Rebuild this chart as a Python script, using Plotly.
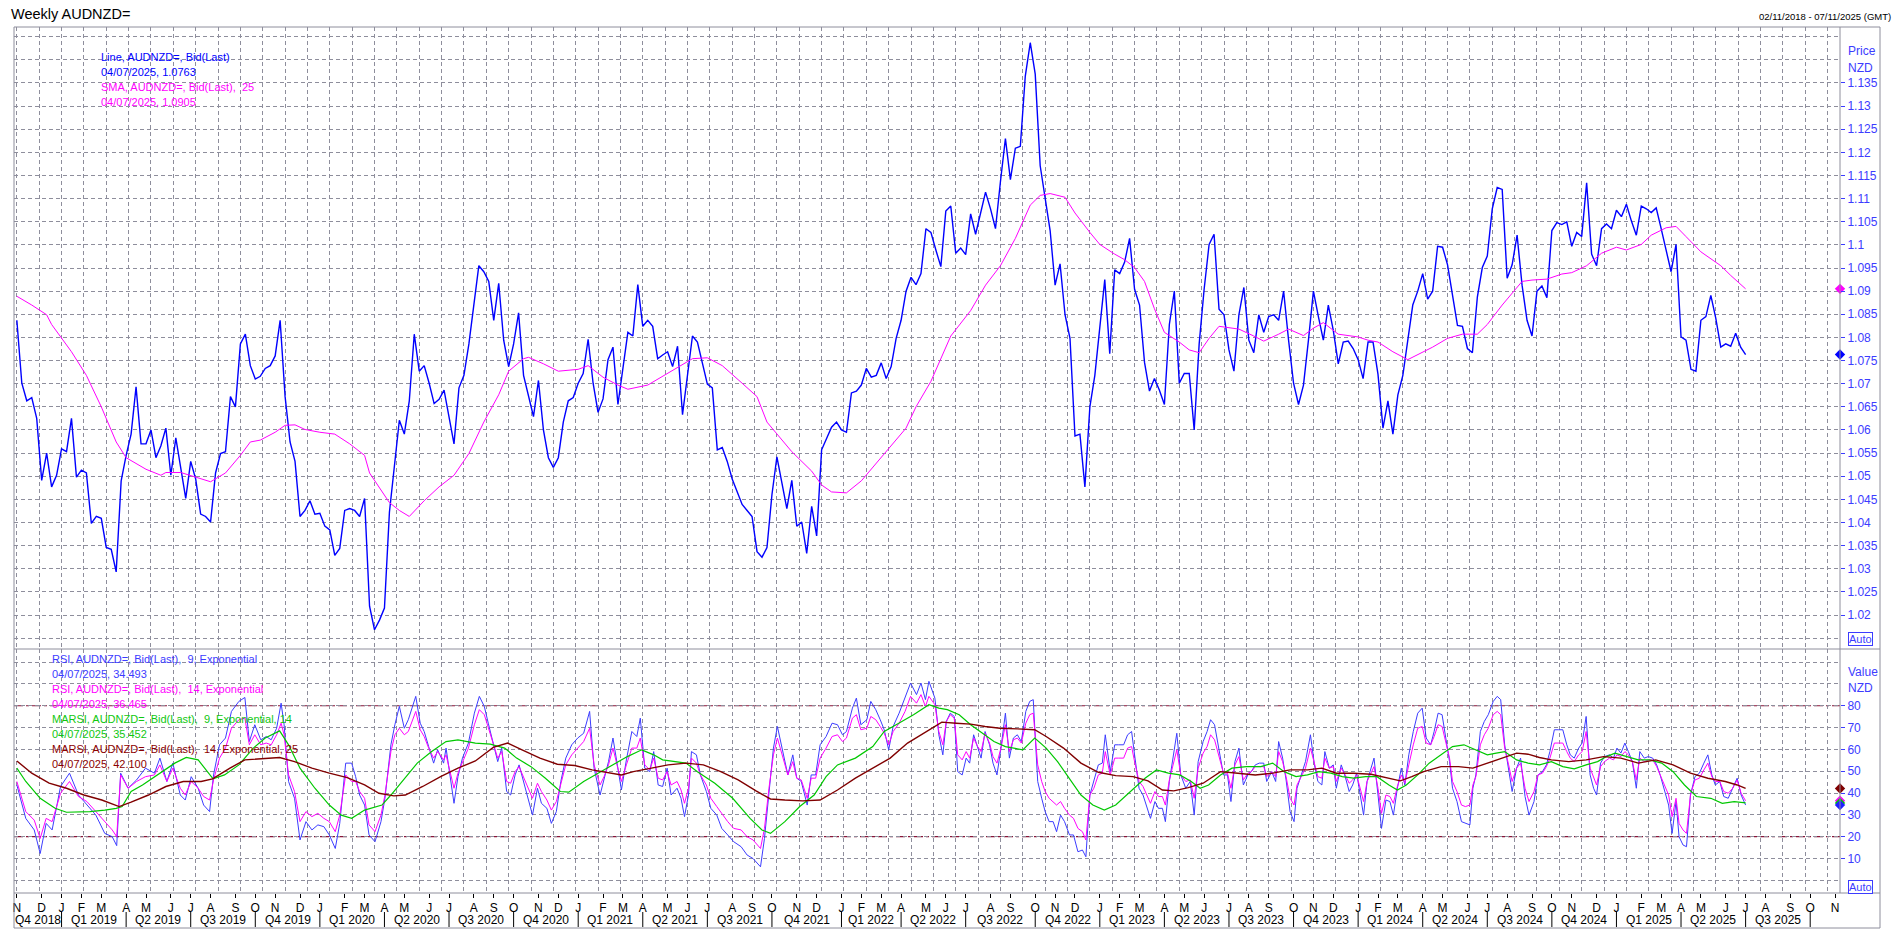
import numpy as np
import pandas as pd
import plotly.graph_objects as go

W, H = 1898, 932
START = pd.Timestamp("2018-11-02")          # first weekly bar (Friday)
X_RANGE = ["2018-10-29", "2025-11-14"]

# ---------------- data (weekly closes) ----------------
price = [
    1.0837, 1.0701, 1.0663, 1.0670, 1.0625, 1.0491, 1.0550, 1.0477, 1.0502, 1.0559,
    1.0553, 1.0625, 1.0498, 1.0513, 1.0507, 1.0398, 1.0413, 1.0409, 1.0346, 1.0342,
    1.0293, 1.0490, 1.0545, 1.0591, 1.0693, 1.0570, 1.0570, 1.0600, 1.0540, 1.0566,
    1.0604, 1.0502, 1.0583, 1.0515, 1.0452, 1.0532, 1.0494, 1.0418, 1.0413, 1.0401,
    1.0507, 1.0549, 1.0553, 1.0672, 1.0650, 1.0786, 1.0807, 1.0739, 1.0710, 1.0716,
    1.0733, 1.0739, 1.0760, 1.0837, 1.0672, 1.0574, 1.0532, 1.0413, 1.0426, 1.0447,
    1.0418, 1.0420, 1.0392, 1.0384, 1.0329, 1.0344, 1.0426, 1.0430, 1.0426, 1.0413,
    1.0452, 1.0219, 1.0168, 1.0189, 1.0215, 1.0422, 1.0515, 1.0621, 1.0591, 1.0663,
    1.0807, 1.0727, 1.0739, 1.0701, 1.0657, 1.0666, 1.0686, 1.0629, 1.0570, 1.0691,
    1.0718, 1.0786, 1.0870, 1.0955, 1.0942, 1.0921, 1.0837, 1.0917, 1.0794, 1.0737,
    1.0786, 1.0853, 1.0718, 1.0672, 1.0629, 1.0707, 1.0600, 1.0540, 1.0519, 1.0540,
    1.0617, 1.0663, 1.0670, 1.0701, 1.0722, 1.0796, 1.0701, 1.0638, 1.0667, 1.0752,
    1.0779, 1.0655, 1.0735, 1.0811,
    1.0803, 1.0914, 1.0824, 1.0837, 1.0824, 1.0754, 1.0762, 1.0769, 1.0737, 1.0781,
    1.0633, 1.0718, 1.0803, 1.0790, 1.0743, 1.0699, 1.0691, 1.0557, 1.0562, 1.0532,
    1.0494, 1.0468, 1.0439, 1.0426, 1.0413, 1.0337, 1.0325, 1.0346, 1.0460, 1.0542,
    1.0490, 1.0430, 1.0491, 1.0392, 1.0401, 1.0333, 1.0435, 1.0371, 1.0557, 1.0583,
    1.0606, 1.0617, 1.0600, 1.0595, 1.0680, 1.0684, 1.0697, 1.0733, 1.0714, 1.0718,
    1.0745, 1.0711, 1.0737, 1.0798, 1.0837, 1.0900, 1.0930, 1.0914, 1.0938, 1.1035,
    1.1027, 1.0989, 1.0953, 1.1073, 1.1084, 1.0982, 1.0993, 1.0979, 1.1067, 1.1023,
    1.1070, 1.1114, 1.1078, 1.1035, 1.1137, 1.1230, 1.1141, 1.1209, 1.1213, 1.1365,
    1.1437, 1.1369, 1.1171, 1.1103, 1.1031, 1.0913, 1.0959, 1.0849, 1.0798, 1.0587,
    1.0591, 1.0477, 1.0650, 1.0718, 1.0815, 1.0925, 1.0765, 1.0946, 1.0938, 1.0963,
    1.1014, 1.0904, 1.0870, 1.0746, 1.0684, 1.0711, 1.0686, 1.0655, 1.0828, 1.0900,
    1.0701, 1.0722, 1.0722, 1.0600, 1.0786, 1.0904, 1.1001, 1.1023, 1.0861, 1.0849,
    1.0773, 1.0727, 1.0849,
    1.0908, 1.0794, 1.0767, 1.0849, 1.0811, 1.0845, 1.0849, 1.0837, 1.0900, 1.0794,
    1.0701, 1.0655, 1.0697, 1.0794, 1.0900, 1.0845, 1.0794, 1.0870, 1.0815, 1.0743,
    1.0790, 1.0792, 1.0776, 1.0752, 1.0711, 1.0790, 1.0790, 1.0720, 1.0604, 1.0663,
    1.0591, 1.0676, 1.0718, 1.0794, 1.0870, 1.0900, 1.0938, 1.0883, 1.0900, 1.0997,
    1.0995, 1.0957, 1.0887, 1.0826, 1.0824, 1.0776, 1.0767, 1.0887, 1.0951, 1.0976,
    1.1078, 1.1124, 1.1120, 1.0928, 1.0957, 1.1021, 1.0913, 1.0837, 1.0803, 1.0900,
    1.0911, 1.0886, 1.1031, 1.1048, 1.1044, 1.1050, 1.0997, 1.1027, 1.1018, 1.1134,
    1.0980, 1.0955, 1.1035, 1.1045, 1.1035, 1.1075, 1.1061, 1.1088, 1.1052, 1.1021,
    1.1084, 1.1078, 1.1070, 1.1080, 1.1035, 1.0989, 1.0942, 1.1001, 1.0801, 1.0794,
    1.0731, 1.0727, 1.0837, 1.0845, 1.0891, 1.0841, 1.0779, 1.0786, 1.0781, 1.0809,
    1.0779, 1.0763,
]

# SMA(25): week number since first bar, value
sma_week = [0, 3, 6, 7, 11, 14, 17, 20, 22, 26, 29, 30, 33, 36, 39, 42, 45, 47, 49, 52,
            54, 56, 58, 61, 64, 67, 70, 71, 75, 77, 79, 82, 85, 88, 91, 94, 97, 99, 102, 103,
            106, 109, 113, 115, 118, 121, 123,
            127, 130, 134, 136, 139, 142, 146, 149, 151, 153, 156, 160, 162, 164, 167, 170, 174, 179,
            181, 184, 188, 192, 195, 198, 201, 204, 206, 208, 211, 213, 216, 218, 221, 223, 225, 227,
            229, 231, 234, 236, 238, 240, 242, 244, 246,
            249, 251, 254, 256, 259, 261, 263, 266, 270, 272, 274, 277, 280, 283, 285, 288, 291, 294,
            296, 299, 303, 305, 308, 311, 313, 316, 319, 322, 324, 327, 329, 332, 334, 336, 339, 343,
            345, 348]
sma_value = [1.0889, 1.0870, 1.0849, 1.0828, 1.0769, 1.0718, 1.0650, 1.0574, 1.0540, 1.0515,
             1.0502, 1.0508, 1.0508, 1.0498, 1.0488, 1.0507, 1.0545, 1.0574, 1.0578, 1.0595,
             1.0610, 1.0611, 1.0601, 1.0595, 1.0591, 1.0570, 1.0545, 1.0507, 1.0443, 1.0426,
             1.0413, 1.0447, 1.0477, 1.0502, 1.0549, 1.0617, 1.0676, 1.0727, 1.0754, 1.0757,
             1.0743, 1.0727, 1.0731, 1.0739, 1.0714, 1.0697, 1.0688,
             1.0697, 1.0716, 1.0742, 1.0754, 1.0756, 1.0739, 1.0701, 1.0672, 1.0617, 1.0591,
             1.0553, 1.0511, 1.0481, 1.0466, 1.0464, 1.0490, 1.0540, 1.0604, 1.0650, 1.0705,
             1.0803, 1.0858, 1.0913, 1.0955, 1.1014, 1.1086, 1.1107, 1.1111, 1.1103, 1.1069,
             1.1027, 1.1001, 1.0980, 1.0968, 1.0951, 1.0921, 1.0862, 1.0811, 1.0790, 1.0773,
             1.0767, 1.0798, 1.0824, 1.0821, 1.0818,
             1.0803, 1.0792, 1.0807, 1.0818, 1.0804, 1.0820, 1.0832, 1.0807, 1.0801, 1.0794,
             1.0790, 1.0769, 1.0752, 1.0769, 1.0779, 1.0798, 1.0807, 1.0807, 1.0828, 1.0870,
             1.0921, 1.0924, 1.0926, 1.0937, 1.0940, 1.0955, 1.0982, 1.0995, 1.0989, 1.1001,
             1.1021, 1.1037, 1.1040, 1.1018, 1.0985, 1.0955, 1.0934, 1.0905]

# RSI 9 / RSI 14 (exponential): week number, values
rsi_week = [0.0, 1.8, 3.5, 4.7, 5.9, 7.1, 8.8, 10.6, 12.4, 14.1, 15.9, 17.7, 19.2, 20.1, 20.9,
            22.4, 24.1, 25.9, 27.7, 28.8, 30.2, 31.4, 32.9, 33.9, 35.1, 36.5, 37.6, 38.8, 39.6,
            40.8, 42.0, 43.2, 44.7, 45.9, 46.8, 47.9, 49.1, 50.2, 51.2, 52.3, 53.2, 53.8, 54.7,
            55.9, 57.0, 58.2, 59.4, 60.6, 61.8, 62.9, 64.1, 65.0, 66.2, 67.4, 68.2, 69.0, 70.0,
            70.9, 72.1, 73.3, 74.1, 75.3, 76.1, 77.0, 78.0, 78.8, 79.7, 80.3, 81.2, 82.0, 82.9,
            83.9, 84.7, 85.9, 86.4, 87.4, 88.0, 88.8, 89.7, 90.9, 92.1, 93.1, 94.1, 94.9, 95.9,
            96.8, 97.6, 98.6, 99.4, 100.3, 101.1, 102.0, 102.9, 103.8, 104.8, 105.6, 106.7,
            107.6, 108.6, 109.5, 110.5, 111.7, 112.9, 114.1, 115.3, 116.2, 117.4, 118.2, 119.1,
            120.0, 120.9, 121.7, 122.7, 123.8, 124.8, 125.5, 126.4, 127.4, 128.2, 129.1, 130.0,
            130.9, 131.7, 132.9, 133.7, 134.4, 135.2, 135.8, 136.8, 137.6, 138.8, 139.7, 140.9,
            141.9, 143.1, 144.3, 145.8, 147.0, 148.2, 149.7, 150.5, 151.4, 152.3, 153.1, 154.1,
            155.2, 156.2, 157.0, 157.9, 159.1, 159.9, 160.8, 161.7, 162.9, 164.1, 165.2, 166.2,
            167.0, 168.2, 169.0, 169.9, 171.1, 171.9, 172.9, 173.8, 174.6, 175.5, 176.4, 177.6,
            178.8, 179.9, 181.1, 182.0, 182.9, 183.6,
            184.8, 185.6, 186.4, 187.1, 187.9, 188.7, 189.4, 190.3, 191.1, 191.8, 192.6, 193.4,
            194.1, 194.9, 195.8, 196.5, 197.3, 198.1, 199.0, 199.8, 200.6, 201.4, 202.2, 203.1,
            203.9, 204.6, 205.5, 206.3, 207.0, 207.8, 208.6, 209.3, 210.1, 210.9, 211.9, 212.7,
            213.6, 214.5, 215.2, 216.0, 216.8, 217.7, 218.5, 219.1, 220.1, 221.0, 221.8, 222.8,
            223.6, 224.4, 225.0, 225.9, 226.7, 227.4, 228.2, 229.1, 229.8, 230.6, 231.2, 232.0,
            232.7, 233.5, 234.3, 235.3, 236.2, 237.0, 237.8, 238.8, 239.6, 240.3, 241.1, 241.9,
            242.9, 243.7, 244.4, 245.2, 246.0, 246.9, 247.8, 248.5, 249.3, 250.1, 251.0, 251.6,
            252.6, 253.4, 254.0, 254.8, 255.5, 256.3, 257.1, 257.7, 258.6, 259.4, 260.4, 261.2,
            261.9, 262.7, 263.3, 264.2, 265.0, 265.6, 266.6, 267.4, 268.2, 268.9, 269.7, 270.5,
            271.1, 271.8, 272.6, 273.2, 274.0, 274.7, 275.6, 276.4, 277.1, 277.9, 278.7, 279.4,
            280.2, 281.1, 282.0, 282.9, 283.7, 284.6, 285.3, 286.1, 286.9, 287.6, 288.4, 289.0,
            289.9, 290.8, 291.6, 292.5, 293.1, 293.7, 294.6, 295.4, 296.2, 297.2, 298.0, 298.7,
            299.5, 300.3, 301.0, 301.9, 302.7, 303.6, 304.4, 305.4, 306.2, 307.1, 307.9, 308.6,
            309.5, 310.3, 311.2, 312.0, 312.7, 313.5, 314.4, 315.1, 315.9, 316.7, 317.4, 318.0,
            318.8, 319.6, 320.6, 321.4, 322.1, 322.9, 323.7, 324.4, 325.2, 326.0, 326.7, 327.6,
            328.4, 329.3, 330.1, 330.8, 331.6, 332.5, 333.2, 334.0, 334.6, 335.4, 336.1, 336.9,
            337.8, 338.7, 339.6, 340.4, 341.2, 341.9, 342.8, 343.6, 344.5, 345.4, 346.3, 347.1,
            348.0]
rsi9 = [43.7, 28.4, 23.1, 12.3, 26.1, 23.1, 43.0, 49.1, 39.1, 34.5, 29.9, 21.5, 20.0, 15.9, 49.1,
        42.2, 46.0, 51.4, 49.1, 56.0, 45.3, 53.7, 39.1, 36.8, 47.5, 42.2, 34.5, 31.5, 48.3,
        62.1, 65.2, 77.4, 82.0, 83.8, 63.6, 71.3, 64.4, 65.9, 64.4, 69.7, 81.2, 71.3, 45.3,
        37.6, 18.5, 26.9, 23.1, 25.4, 24.6, 20.8, 14.6, 26.1, 53.7, 53.7, 47.5, 39.1, 34.5,
        20.8, 17.7, 26.9, 37.6, 62.1, 71.3, 79.7, 69.7, 73.6, 79.7, 84.3, 72.0, 68.2, 61.3,
        53.7, 59.8, 53.7, 60.6, 45.3, 35.3, 47.5, 56.0, 62.9, 76.6, 84.3, 79.7, 72.0, 62.1,
        54.4, 60.6, 40.7, 39.1, 48.3, 52.9, 45.3, 36.8, 29.9, 42.2, 35.3, 33.0,
        26.1, 31.5, 45.3, 56.0, 62.1, 65.2, 67.4, 77.4, 51.4, 39.1, 46.0, 54.4,
        65.2, 52.1, 41.4, 55.2, 68.2, 65.9, 74.3, 51.4, 49.8, 59.0, 43.7, 43.0,
        51.4, 39.1, 42.2, 37.6, 29.2, 39.1, 59.0, 57.5, 48.3, 40.7, 33.0, 29.9,
        23.8, 20.8, 17.7, 15.4, 11.6, 10.0, 6.2, 19.2, 39.1, 60.6, 70.5, 60.6,
        48.3, 57.5, 46.8, 45.3, 34.5, 48.3, 48.3, 62.1, 65.9, 72.0, 71.3, 66.7,
        68.2, 78.9, 83.5, 71.3, 73.6, 82.0, 78.2, 73.6, 69.0, 59.8, 70.5, 76.6,
        83.5, 90.4, 85.1, 90.4, 82.8, 91.2,
        83.5, 66.7, 57.5, 72.8, 76.6, 75.1, 49.8, 48.3, 56.0, 53.7, 66.7, 60.6,
        56.0, 68.2, 62.1, 53.7, 48.3, 60.6, 76.6, 56.0, 65.2, 66.7, 63.6, 77.4,
        82.0, 82.8, 45.3, 37.6, 31.5, 26.9, 26.9, 22.3, 29.9, 26.9, 20.8, 20.8,
        13.1, 13.9, 10.8, 39.1, 45.3, 52.9, 53.7, 66.7, 49.8, 62.1, 62.1, 62.1,
        66.7, 68.2, 57.5, 42.2, 39.1, 34.5, 28.4, 36.1, 33.0, 33.0, 26.9, 45.3,
        56.0, 67.4, 48.3, 42.2, 45.3, 29.9, 54.4, 63.6, 68.2, 73.6, 71.3, 60.6,
        48.3, 48.3, 36.1, 54.4, 60.6, 43.7, 48.3, 49.8, 52.9, 53.7, 53.7, 45.3,
        49.8, 45.3, 63.6, 56.0, 46.0, 31.5, 26.9, 42.2, 48.3, 54.4, 66.7, 52.9,
        45.3, 43.7, 59.0, 51.4, 52.9, 42.2, 52.9, 47.5, 40.7, 43.7, 49.1, 37.6,
        29.9, 45.3, 51.4, 56.0, 39.1, 23.8, 36.8, 36.1, 29.9, 42.2, 51.4, 43.7,
        57.5, 68.2, 76.6, 78.9, 65.2, 62.1, 68.2, 76.6, 75.9, 65.2, 54.4, 42.2,
        36.1, 26.9, 26.1, 25.4, 42.2, 48.3, 68.2, 72.8, 75.9, 82.0, 84.3, 82.8,
        62.1, 51.4, 40.7, 51.4, 56.0, 38.4, 29.9, 36.1, 48.3, 49.8, 52.9, 59.0,
        69.0, 69.0, 69.0, 62.1, 57.5, 56.0, 60.6, 62.9, 75.1, 48.3, 42.2, 39.1,
        53.7, 56.7, 57.5, 56.0, 60.6, 58.3, 62.9, 59.0, 54.4, 42.2, 59.0, 56.0,
        56.7, 56.0, 52.9, 48.3, 41.4, 34.5, 21.5, 36.1, 20.0, 16.2, 15.4, 39.1,
        47.5, 49.1, 53.7, 57.5, 48.3, 43.7, 45.3, 38.4, 37.6, 42.2, 46.8, 39.1,
        34.493]
rsi14 = [45.3, 31.5, 27.6, 19.2, 28.4, 26.9, 39.9, 45.3, 38.4, 36.1, 31.5, 26.9, 23.1, 20.0, 48.3,
         42.2, 45.3, 47.5, 48.3, 52.9, 45.3, 51.4, 42.2, 39.1, 45.3, 42.2, 38.4, 36.8, 46.0,
         56.0, 60.6, 69.7, 73.6, 74.3, 62.1, 66.7, 62.1, 62.9, 62.1, 66.7, 72.0, 66.7, 48.3,
         40.7, 26.9, 31.5, 29.2, 30.7, 28.4, 26.9, 22.3, 29.9, 48.3, 45.3, 45.3, 40.7, 37.6,
         25.4, 22.3, 29.9, 39.1, 59.0, 66.7, 69.7, 66.7, 68.2, 73.6, 77.4, 69.0, 65.9, 60.6,
         56.0, 59.0, 55.2, 57.5, 48.3, 42.2, 49.1, 54.4, 60.6, 71.3, 78.2, 75.9, 69.7, 62.1,
         56.0, 59.0, 45.3, 44.5, 49.8, 52.1, 47.5, 42.2, 37.6, 44.5, 40.7, 36.8,
         32.2, 36.1, 44.5, 52.9, 57.5, 60.6, 63.6, 69.7, 52.9, 43.7, 47.5, 52.9,
         60.6, 52.1, 45.3, 52.9, 60.6, 60.6, 65.2, 52.9, 50.6, 56.0, 46.8, 46.0,
         49.8, 43.7, 45.3, 41.4, 35.3, 42.2, 56.0, 53.7, 48.3, 43.7, 37.6, 33.8,
         30.7, 26.9, 23.8, 23.1, 20.0, 18.5, 14.6, 23.8, 42.2, 57.5, 65.2, 57.5,
         48.3, 54.4, 46.8, 46.0, 37.6, 46.8, 46.8, 56.0, 60.6, 65.9, 66.7, 63.6,
         65.2, 74.3, 75.9, 69.0, 69.7, 75.1, 73.6, 70.5, 67.4, 62.1, 68.2, 72.0,
         77.4, 84.3, 81.2, 85.1, 79.7, 84.3,
         80.5, 68.2, 62.1, 72.8, 75.9, 74.3, 57.5, 55.2, 59.0, 56.0, 65.2, 61.3,
         59.0, 67.4, 62.9, 56.7, 53.7, 60.6, 71.3, 59.0, 64.4, 65.2, 62.9, 72.0,
         75.9, 76.6, 52.9, 45.3, 40.7, 37.6, 36.1, 34.5, 36.1, 33.0, 29.9, 28.4,
         23.8, 22.3, 18.5, 39.1, 42.2, 48.3, 49.1, 59.0, 48.3, 56.0, 56.0, 56.0,
         60.6, 61.3, 54.4, 45.3, 43.0, 39.1, 35.3, 40.7, 38.4, 38.4, 34.5, 46.0,
         52.9, 59.8, 48.3, 45.3, 46.0, 37.6, 51.4, 58.3, 61.3, 66.7, 64.4, 57.5,
         49.1, 49.1, 42.2, 52.9, 56.7, 46.0, 49.1, 49.8, 52.1, 52.1, 52.1, 47.5,
         49.8, 47.5, 59.0, 54.4, 47.5, 37.6, 34.5, 43.7, 47.5, 51.4, 60.6, 52.9,
         47.5, 46.8, 56.0, 51.4, 52.1, 45.3, 51.4, 48.3, 44.5, 46.0, 48.3, 41.4,
         36.1, 45.3, 49.1, 52.1, 42.2, 30.7, 39.1, 38.4, 35.3, 43.0, 48.3, 44.5,
         52.9, 62.1, 69.7, 70.5, 62.9, 62.1, 65.9, 71.3, 70.5, 63.6, 56.0, 45.3,
         40.7, 34.5, 33.8, 34.5, 43.7, 47.5, 62.1, 66.7, 69.7, 75.9, 77.4, 75.9,
         60.6, 52.9, 45.3, 51.4, 53.7, 42.2, 36.1, 40.7, 48.3, 49.1, 52.1, 56.0,
         62.9, 62.9, 62.9, 59.0, 56.0, 54.4, 57.5, 59.0, 68.2, 51.4, 46.8, 43.7,
         52.1, 54.4, 56.0, 55.2, 57.5, 56.7, 59.0, 57.5, 54.4, 46.0, 56.0, 54.4,
         55.2, 55.2, 52.1, 48.3, 43.7, 39.1, 29.2, 37.6, 26.1, 23.1, 21.5, 39.1,
         46.0, 46.8, 50.6, 53.7, 47.5, 45.3, 45.3, 40.7, 39.9, 42.2, 46.0, 39.9,
         36.465]

# MARSI 9 (exp, 14) and MARSI 14 (exp, 25)
marsi9_week = [0.0, 1.8, 4.7, 7.7, 10.0, 12.4, 14.7, 17.7, 20.0, 21.2, 23.0, 25.3, 28.8, 31.8,
               34.1, 36.5, 39.5, 41.8, 44.7, 47.6, 50.0, 52.9, 54.7, 57.0, 60.0, 62.9, 65.3,
               67.4, 70.0, 73.5, 75.3, 77.6, 80.6, 83.5, 86.4, 88.8, 92.3, 95.3, 98.2, 100.6,
               103.5, 106.4, 109.4, 111.1, 114.1, 117.0, 120.0, 122.9, 125.8, 128.2, 130.0,
               132.3, 134.7, 137.0, 140.5, 144.1, 147.6, 150.0, 151.7, 154.6, 157.6, 160.5,
               162.9, 165.2, 168.8, 172.3, 174.6, 177.0, 180.5, 183.6,
               185.6, 187.3, 189.7, 192.0, 194.4, 196.7, 199.0, 200.8, 202.5, 204.9, 207.2,
               209.5, 211.9, 214.2, 216.6, 218.9, 221.2, 224.2, 227.1, 229.4, 231.8, 234.1,
               236.4, 238.2, 239.9, 242.3, 244.6, 247.5, 250.4, 252.8, 255.1, 257.5, 259.8,
               262.1, 264.5, 266.8, 269.1, 271.5, 273.8, 276.2, 277.9, 279.7, 282.0, 284.3,
               286.7, 289.0, 291.3, 293.7, 296.0, 297.8, 299.5, 301.9, 304.2, 306.5, 308.9,
               311.2, 313.5, 315.9, 318.2, 320.0, 321.7, 324.1, 326.4, 328.7, 331.1, 333.4,
               335.7, 338.1, 341.0, 343.3, 345.7, 348.0]
marsi9 = [51.4, 45.3, 37.6, 33.0, 31.2, 31.2, 31.5, 32.2, 33.0, 33.8, 40.7, 43.7, 49.1, 53.7,
          56.3, 55.2, 46.5, 48.3, 52.9, 60.6, 65.2, 68.5, 62.1, 51.4, 42.2, 34.5, 29.9,
          28.4, 32.2, 34.5, 39.1, 45.3, 53.7, 59.0, 63.6, 64.4, 62.9, 62.4, 60.6, 56.0,
          52.1, 46.8, 40.7, 40.4, 45.3, 49.1, 52.9, 56.7, 59.8, 57.5, 55.2,
          54.4, 53.7, 49.8, 44.5, 37.6, 28.4, 23.1, 21.5, 26.9, 33.8, 39.1,
          47.5, 52.9, 56.0, 61.3, 68.2, 71.3, 75.9, 80.5,
          78.9, 78.2, 75.9, 71.3, 67.4, 63.6, 61.3, 60.6, 59.8, 65.2, 60.6,
          54.4, 46.8, 39.1, 34.5, 32.2, 34.5, 40.7, 46.8, 50.6, 49.1, 48.3,
          45.3, 42.2, 43.7, 48.3, 51.4, 52.1, 52.1, 53.7, 49.8, 47.5, 48.3,
          49.8, 49.1, 47.5, 46.8, 47.5, 47.5, 43.7, 41.4, 43.7, 48.3, 53.7,
          57.5, 61.3, 62.1, 59.8, 57.5, 58.3, 59.0, 55.2, 53.7, 52.9, 54.4,
          52.1, 51.1, 52.9, 54.4, 56.7, 58.3, 56.7, 55.2, 55.2, 53.7, 49.8,
          43.7, 38.4, 37.6, 35.3, 36.1, 35.452]
marsi14_week = [0.0, 3.0, 6.5, 10.0, 13.5, 17.1, 20.6, 23.0, 26.5, 30.0, 33.5, 37.1, 39.4, 42.9,
                45.9, 48.8, 52.9, 55.9, 59.4, 62.9, 66.5, 70.0, 72.9, 75.9, 78.2, 81.7, 85.3,
                88.8, 92.3, 95.9, 98.8, 101.7, 105.3, 108.8, 112.3, 115.8, 119.4, 121.7, 124.1,
                127.6, 131.1, 134.7, 138.2, 141.7, 145.2, 148.8, 151.7, 154.6, 158.2, 161.7,
                165.2, 168.8, 172.3, 175.8, 179.3, 183.6,
                186.2, 189.1, 192.0, 194.9, 197.9, 201.4, 204.9, 207.2, 210.7, 214.2, 217.7,
                221.2, 224.7, 227.7, 230.6, 232.9, 235.8, 238.8, 242.3, 245.8, 249.3, 252.8,
                256.3, 259.8, 262.7, 265.6, 269.1, 272.6, 276.2, 278.5, 280.8, 283.2, 286.7,
                290.2, 293.1, 296.0, 298.9, 301.9, 304.2, 306.5, 308.9, 312.4, 315.9, 319.4,
                322.9, 326.4, 329.9, 333.4, 336.9, 340.4, 343.9, 346.3, 348.0]
marsi14 = [54.7, 49.1, 44.5, 42.2, 39.1, 36.8, 33.8, 35.8, 39.1, 43.0, 45.3, 45.3, 46.5, 51.4,
           55.2, 55.7, 56.3, 54.4, 51.4, 49.1, 47.1, 43.7, 39.9, 38.7, 39.1, 43.0, 47.5,
           51.4, 54.7, 60.9, 62.9, 59.8, 56.0, 53.2, 52.6, 50.6, 49.1, 48.3, 49.8,
           51.4, 52.9, 53.7, 52.9, 49.8, 46.0, 41.0, 37.3, 36.8, 36.4, 36.8,
           41.4, 46.8, 51.4, 56.0, 62.9, 69.0,
           72.5, 72.0, 71.6, 70.5, 69.7, 69.4, 69.0, 65.9, 60.6, 53.7, 49.5,
           48.0, 47.5, 45.6, 41.4, 41.0, 42.5, 44.5, 49.8, 49.1, 48.3, 49.1,
           50.6, 50.6, 51.4, 49.1, 49.1, 48.6, 46.8, 45.6, 47.5, 49.8, 52.1,
           52.1, 51.4, 53.7, 56.0, 58.3, 57.8, 56.3, 55.2, 54.4, 55.2, 56.7,
           56.0, 53.7, 55.2, 52.9, 49.1, 46.8, 45.3, 43.7, 42.1]

# axis labels / texts
price_tick_values = [1.02, 1.025, 1.03, 1.035, 1.04, 1.045, 1.05, 1.055, 1.06, 1.065, 1.07, 1.075,
                     1.08, 1.085, 1.09, 1.095, 1.1, 1.105, 1.11, 1.115, 1.12, 1.125, 1.13, 1.135]
price_tick_labels = ["1.02", "1.025", "1.03", "1.035", "1.04", "1.045", "1.05", "1.055", "1.06",
                     "1.065", "1.07", "1.075", "1.08", "1.085", "1.09", "1.095", "1.1", "1.105",
                     "1.11", "1.115", "1.12", "1.125", "1.13", "1.135"]
price_grid_values = [1.015 + 0.005 * i for i in range(27)]
value_tick_values = [10, 20, 30, 40, 50, 60, 70, 80]
value_tick_labels = ["10", "20", "30", "40", "50", "60", "70", "80"]
value_grid_values = [0, 10, 20, 30, 40, 50, 60, 70, 80, 90, 100]
month_letters = ["J", "F", "M", "A", "M", "J", "J", "A", "S", "O", "N", "D"]
quarter_labels = ["Q4 2018",
                  "Q1 2019", "Q2 2019", "Q3 2019", "Q4 2019",
                  "Q1 2020", "Q2 2020", "Q3 2020", "Q4 2020",
                  "Q1 2021", "Q2 2021", "Q3 2021", "Q4 2021",
                  "Q1 2022", "Q2 2022", "Q3 2022", "Q4 2022",
                  "Q1 2023", "Q2 2023", "Q3 2023", "Q4 2023",
                  "Q1 2024", "Q2 2024", "Q3 2024", "Q4 2024",
                  "Q1 2025", "Q2 2025", "Q3 2025"]
top_legend = [("Line, AUDNZD=, Bid(Last)", "#0000ff"),
              ("04/07/2025, 1.0763", "#0000ff"),
              ("SMA, AUDNZD=, Bid(Last), \u00a025", "#ff00ff"),
              ("04/07/2025, 1.0905", "#ff00ff")]
bottom_legend = [("RSI, AUDNZD=, Bid(Last), \u00a09, Exponential", "#3c3cff"),
                 ("04/07/2025, 34.493", "#3c3cff"),
                 ("RSI, AUDNZD=, Bid(Last), \u00a014, Exponential", "#ff00ff"),
                 ("04/07/2025, 36.465", "#ff00ff"),
                 ("MARSI, AUDNZD=, Bid(Last), \u00a09, Exponential, 14", "#10c810"),
                 ("04/07/2025, 35.452", "#10c810"),
                 ("MARSI, AUDNZD=, Bid(Last), \u00a014, Exponential, 25", "#8b0000"),
                 ("04/07/2025, 42.100", "#8b0000")]

# ---------------- helpers ----------------
FONT = "Liberation Sans, Arial, sans-serif"
GRID = "#8e8e9c"
FRAME = "#8e8e9c"
AXIS_BLUE = "#3c3cff"


def px(x):
    return x / W


def py(y):
    return 1 - y / H


def week_dates(weeks):
    return START + pd.to_timedelta(np.asarray(weeks, dtype=float) * 7, unit="D")


price_dates = pd.date_range(START, periods=len(price), freq="7D")

# month ticks at the first weekly bar of each month; quarter separators likewise
month_starts = pd.date_range("2018-11-01", "2025-11-01", freq="MS")
month_ticks = [d + pd.Timedelta(days=(4 - d.weekday()) % 7) for d in month_starts]
month_text = [month_letters[d.month - 1] for d in month_starts]
quarter_seps = [t for d, t in zip(month_starts, month_ticks) if d.month in (1, 4, 7, 10)]
quarter_bounds = [pd.Timestamp(X_RANGE[0])] + quarter_seps

fig = go.Figure()

# ---------------- traces ----------------
fig.add_trace(go.Scatter(x=price_dates, y=price, mode="lines", name="Line",
                         line=dict(color="#0000ff", width=1.4), xaxis="x", yaxis="y"))
fig.add_trace(go.Scatter(x=week_dates(sma_week), y=sma_value, mode="lines", name="SMA",
                         line=dict(color="#ff00ff", width=1), xaxis="x", yaxis="y"))
fig.add_trace(go.Scatter(x=week_dates(rsi_week), y=rsi9, mode="lines", name="RSI 9",
                         line=dict(color="#3c3cff", width=1), xaxis="x2", yaxis="y2"))
fig.add_trace(go.Scatter(x=week_dates(rsi_week), y=rsi14, mode="lines", name="RSI 14",
                         line=dict(color="#ff00ff", width=1), xaxis="x2", yaxis="y2"))
fig.add_trace(go.Scatter(x=week_dates(marsi9_week), y=marsi9, mode="lines", name="MARSI 9",
                         line=dict(color="#00c800", width=1.2), xaxis="x2", yaxis="y2"))
fig.add_trace(go.Scatter(x=week_dates(marsi14_week), y=marsi14, mode="lines", name="MARSI 14",
                         line=dict(color="#800000", width=1.4), xaxis="x2", yaxis="y2"))

# last-value diamonds on the value axes
edge = pd.Timestamp(X_RANGE[1])
for val, col, ya in [(sma_value[-1], "#ff00ff", "y"), (price[-1], "#0000ff", "y"),
                     (marsi14[-1], "#800000", "y2"), (rsi14[-1], "#ff00ff", "y2"),
                     (marsi9[-1], "#00c800", "y2"), (rsi9[-1], "#2020ff", "y2")]:
    fig.add_trace(go.Scatter(x=[edge], y=[val], mode="markers", cliponaxis=False,
                             marker=dict(symbol="diamond", size=8, color=col),
                             xaxis="x" if ya == "y" else "x2", yaxis=ya,
                             hoverinfo="skip", showlegend=False))

# invisible anchors for the overlay label axes
fig.add_trace(go.Scatter(x=[price_dates[0]], y=[price[0]], mode="markers", marker=dict(opacity=0),
                         xaxis="x", yaxis="y3", hoverinfo="skip", showlegend=False))
fig.add_trace(go.Scatter(x=[price_dates[0]], y=[rsi9[0]], mode="markers", marker=dict(opacity=0),
                         xaxis="x3", yaxis="y4", hoverinfo="skip", showlegend=False))

# ---------------- axes ----------------
X_DOM = [px(14), px(1840)]
Y1_DOM = [py(649), py(27)]
Y2_DOM = [py(893), py(649)]
Y1_RANGE = [1.01265, 1.1471]
Y2_RANGE = [-5.8, 106]
grid_x = dict(type="date", range=X_RANGE, domain=X_DOM, showgrid=True, gridcolor=GRID,
              griddash="4px,3px", gridwidth=1, tick0=str(START.date()),
              dtick=31.5 * 86400000, showticklabels=False, ticks="", zeroline=False,
              showline=False, fixedrange=True)

fig.update_layout(
    width=W, height=H, autosize=False,
    margin=dict(l=0, r=0, t=0, b=0, pad=0),
    paper_bgcolor="white", plot_bgcolor="white",
    showlegend=False, hovermode=False,
    font=dict(family=FONT, size=12, color="#000000"),
    xaxis=dict(grid_x, anchor="y"),
    xaxis2=dict(grid_x, anchor="y2", matches="x"),
    xaxis3=dict(type="date", range=X_RANGE, overlaying="x2", anchor="y2", side="bottom",
                tickmode="array", tickvals=month_ticks, ticktext=month_text,
                ticks="outside", ticklen=4, tickwidth=1, tickcolor="#000000",
                tickfont=dict(family=FONT, size=12, color="#000000"),
                showgrid=False, zeroline=False, showline=False, fixedrange=True),
    yaxis=dict(domain=Y1_DOM, range=Y1_RANGE, anchor="x", side="right",
               tickmode="array", tickvals=price_grid_values, showticklabels=False, ticks="",
               showgrid=True, gridcolor=GRID, griddash="4px,3px", gridwidth=1,
               zeroline=False, showline=False, fixedrange=True),
    yaxis3=dict(range=Y1_RANGE, overlaying="y", anchor="x", side="right",
                tickmode="array", tickvals=price_tick_values, ticktext=price_tick_labels,
                ticks="outside", ticklen=4, tickcolor=AXIS_BLUE,
                tickfont=dict(family=FONT, size=12, color=AXIS_BLUE),
                showgrid=False, zeroline=False, showline=False, fixedrange=True),
    yaxis2=dict(domain=Y2_DOM, range=Y2_RANGE, anchor="x2", side="right",
                tickmode="array", tickvals=value_grid_values, showticklabels=False, ticks="",
                showgrid=True, gridcolor=GRID, griddash="4px,3px", gridwidth=1,
                zeroline=False, showline=False, fixedrange=True),
    yaxis4=dict(range=Y2_RANGE, overlaying="y2", anchor="x2", side="right",
                tickmode="array", tickvals=value_tick_values, ticktext=value_tick_labels,
                ticks="outside", ticklen=4, tickcolor=AXIS_BLUE,
                tickfont=dict(family=FONT, size=12, color=AXIS_BLUE),
                showgrid=False, zeroline=False, showline=False, fixedrange=True),
)

# ---------------- shapes ----------------
shapes = []
line_frame = dict(color=FRAME, width=1)
shapes.append(dict(type="rect", xref="paper", yref="paper", x0=px(14), x1=px(1880),
                   y0=py(928), y1=py(27), line=line_frame, layer="above"))
shapes.append(dict(type="line", xref="paper", yref="paper", x0=px(1840), x1=px(1840),
                   y0=py(893), y1=py(27), line=line_frame, layer="above"))
shapes.append(dict(type="line", xref="paper", yref="paper", x0=px(14), x1=px(1880),
                   y0=py(649), y1=py(649), line=line_frame, layer="above"))
shapes.append(dict(type="line", xref="paper", yref="paper", x0=px(14), x1=px(1880),
                   y0=py(893), y1=py(893), line=line_frame, layer="above"))
for lvl in (80, 20):
    shapes.append(dict(type="line", xref="paper", yref="y2", x0=X_DOM[0], x1=X_DOM[1],
                       y0=lvl, y1=lvl, line=dict(color="#8b1538", width=1.2, dash="dashdot"),
                       layer="below"))
for q in quarter_seps:
    shapes.append(dict(type="line", xref="x", yref="paper", x0=q, x1=q,
                       y0=py(927), y1=py(912), line=dict(color="#000000", width=1)))
fig.update_layout(shapes=shapes)

# ---------------- annotations ----------------
ann = []
ann.append(dict(text="Weekly AUDNZD=", xref="paper", yref="paper", x=px(9), y=py(14),
                xanchor="left", yanchor="middle", showarrow=False,
                font=dict(family=FONT, size=14.5, color="#000000")))
ann.append(dict(text="02/11/2018 - 07/11/2025 (GMT)", xref="paper", yref="paper",
                x=px(1893), y=py(16), xanchor="right", yanchor="middle", showarrow=False,
                font=dict(family=FONT, size=9.5, color="#000000")))
for i, (t, c) in enumerate(top_legend):
    ann.append(dict(text=t, xref="paper", yref="paper", x=px(99), y=py(57 + 15 * i),
                    xanchor="left", yanchor="middle", showarrow=False,
                    font=dict(family=FONT, size=11, color=c)))
for i, (t, c) in enumerate(bottom_legend):
    ann.append(dict(text=t, xref="paper", yref="paper", x=px(50), y=py(659 + 15 * i),
                    xanchor="left", yanchor="middle", showarrow=False,
                    font=dict(family=FONT, size=11, color=c)))
for t, yy in [("Price", 51), ("NZD", 68), ("Value", 672), ("NZD", 688)]:
    ann.append(dict(text=t, xref="paper", yref="paper", x=px(1846), y=py(yy),
                    xanchor="left", yanchor="middle", showarrow=False,
                    font=dict(family=FONT, size=12, color=AXIS_BLUE)))
for yy in (639, 887):
    ann.append(dict(text="Auto", xref="paper", yref="paper", x=px(1860), y=py(yy),
                    xanchor="center", yanchor="middle", showarrow=False,
                    bordercolor=AXIS_BLUE, borderwidth=1, borderpad=0, bgcolor="white",
                    font=dict(family=FONT, size=11, color=AXIS_BLUE)))
for lab, a, b in zip(quarter_labels, quarter_bounds[:-1], quarter_bounds[1:]):
    mid = a + (b - a) / 2
    ann.append(dict(text=lab, xref="x", yref="paper", x=mid, y=py(920),
                    xanchor="center", yanchor="middle", showarrow=False,
                    font=dict(family=FONT, size=12, color="#000000")))
fig.update_layout(annotations=ann)

fig.write_html(
    "out.html",
    config={"displayModeBar": False},
    post_script="document.body.style.margin='0px';document.body.style.padding='0px';"
                "document.body.style.overflow='hidden';",
)
